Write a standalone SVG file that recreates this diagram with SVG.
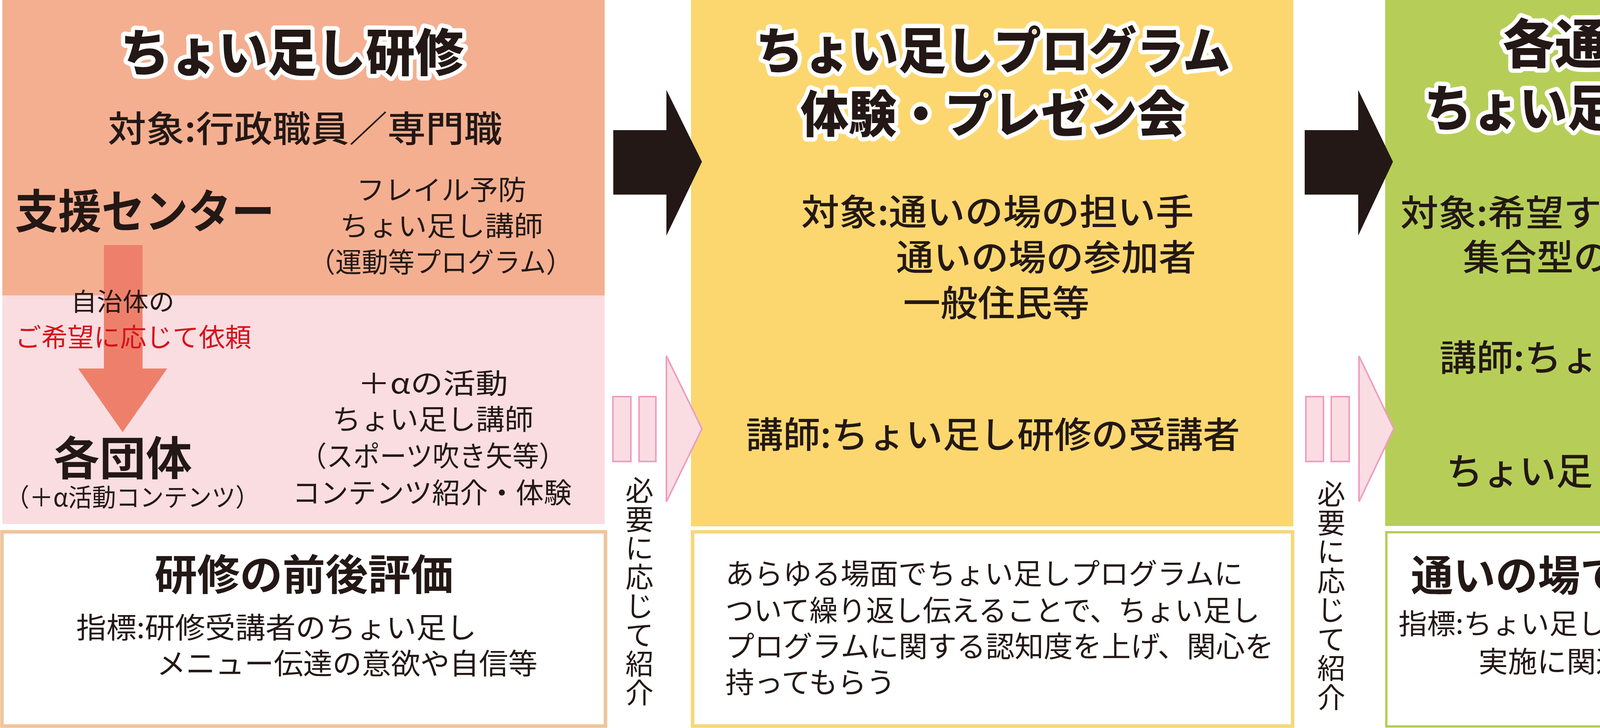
<svg xmlns="http://www.w3.org/2000/svg" width="5089" height="1863" viewBox="0 0 5089 1863">
<style>
text{font-family:"Noto Sans CJK JP","Noto Sans",sans-serif;fill:#231815;dominant-baseline:central}
.ttl{font-weight:900;stroke:#fff;stroke-width:22;stroke-linejoin:round;paint-order:stroke fill}
.b{font-weight:700}
.m{font-weight:500}
.r{font-weight:400}
.c{text-anchor:middle}
.vt{font-weight:400;font-size:72px;text-anchor:middle}
.bar{fill:#FADDE3;stroke:#EE9DC0;stroke-width:4}
</style>
<rect width="5089" height="1863" fill="#fff"/>

<g id="node-kenshu">
<rect x="6" y="0" width="1542" height="756" fill="#F4AF90"/>
<rect x="6" y="756" width="1542" height="585" fill="#F9DDE1"/>
<text class="ttl c" x="748" y="125" font-size="130" textLength="880" lengthAdjust="spacingAndGlyphs">ちょい足し研修</text>
<text class="m" x="276" y="322" font-size="92" textLength="1010" lengthAdjust="spacingAndGlyphs">対象:行政職員／専門職</text>
<text class="b" x="38" y="532" font-size="118" textLength="665" lengthAdjust="spacingAndGlyphs">支援センター</text>
<text class="r c" x="1130" y="481" font-size="70" textLength="435" lengthAdjust="spacingAndGlyphs">フレイル予防</text>
<text class="r c" x="1130" y="573" font-size="70" textLength="520" lengthAdjust="spacingAndGlyphs">ちょい足し講師</text>
<text class="r c" x="1128" y="666" font-size="70" textLength="675" lengthAdjust="spacingAndGlyphs">（運動等プログラム）</text>
</g>

<g id="connector-request">
<polygon points="266,627 365,627 365,943 428,943 314,1106 200,943 266,943" fill="#EE806B"/>
</g>

<g id="node-dantai">
<text class="r c" x="314" y="767" font-size="64" textLength="265" lengthAdjust="spacingAndGlyphs">自治体の</text>
<text class="r c" x="341" y="858" font-size="66" textLength="605" lengthAdjust="spacingAndGlyphs" style="fill:#D5121B">ご希望に応じて依頼</text>
<text class="b c" x="314" y="1164" font-size="118" textLength="355" lengthAdjust="spacingAndGlyphs">各団体</text>
<text class="r c" x="339" y="1268" font-size="64" textLength="650" lengthAdjust="spacingAndGlyphs">（＋α活動コンテンツ）</text>
<text class="r c" x="1108" y="975" font-size="72" textLength="385" lengthAdjust="spacingAndGlyphs">＋αの活動</text>
<text class="r c" x="1108" y="1067" font-size="72" textLength="515" lengthAdjust="spacingAndGlyphs">ちょい足し講師</text>
<text class="r c" x="1108" y="1161" font-size="72" textLength="680" lengthAdjust="spacingAndGlyphs">（スポーツ吹き矢等）</text>
<text class="r c" x="1106" y="1255" font-size="72" textLength="715" lengthAdjust="spacingAndGlyphs">コンテンツ紹介・体験</text>
</g>

<g id="node-eval1">
<rect x="5" y="1361" width="1545" height="497" fill="#fff" stroke="#EFC59B" stroke-width="9"/>
<text class="b c" x="778" y="1463" font-size="108" textLength="765" lengthAdjust="spacingAndGlyphs">研修の前後評価</text>
<text class="r" x="195" y="1600" font-size="74" textLength="1025" lengthAdjust="spacingAndGlyphs">指標:研修受講者のちょい足し</text>
<text class="r" x="401" y="1692" font-size="74" textLength="975" lengthAdjust="spacingAndGlyphs">メニュー伝達の意欲や自信等</text>
</g>

<g id="node-program">
<rect x="1769" y="0" width="1542" height="1347" fill="#FCD770"/>
<text class="ttl c" x="2542" y="121" font-size="128" textLength="1215" lengthAdjust="spacingAndGlyphs">ちょい足しプログラム</text>
<text class="ttl c" x="2542" y="283" font-size="128" textLength="985" lengthAdjust="spacingAndGlyphs">体験・プレゼン会</text>
<text class="m" x="2051" y="535" font-size="92" textLength="1005" lengthAdjust="spacingAndGlyphs">対象:通いの場の担い手</text>
<text class="m" x="2294" y="651" font-size="92" textLength="768" lengthAdjust="spacingAndGlyphs">通いの場の参加者</text>
<text class="m" x="2312" y="768" font-size="92" textLength="477" lengthAdjust="spacingAndGlyphs">一般住民等</text>
<text class="m c" x="2542" y="1105" font-size="92" textLength="1265" lengthAdjust="spacingAndGlyphs">講師:ちょい足し研修の受講者</text>
</g>

<g id="node-desc2">
<rect x="1773" y="1361" width="1536" height="497" fill="#fff" stroke="#F6D77B" stroke-width="9"/>
<text class="r" x="1857" y="1462" font-size="74" textLength="1325" lengthAdjust="spacingAndGlyphs">あらゆる場面でちょい足しプログラムに</text>
<text class="r" x="1857" y="1556" font-size="74" textLength="1368" lengthAdjust="spacingAndGlyphs">ついて繰り返し伝えることで、ちょい足し</text>
<text class="r" x="1857" y="1648" font-size="74" textLength="1404" lengthAdjust="spacingAndGlyphs">プログラムに関する認知度を上げ、関心を</text>
<text class="r" x="1857" y="1740" font-size="74" textLength="435" lengthAdjust="spacingAndGlyphs">持ってもらう</text>
</g>

<g id="node-practice">
<rect x="3546" y="0" width="1543" height="1346" fill="#B6CE58"/>
<text class="ttl c" x="4316" y="103" font-size="135" textLength="940" lengthAdjust="spacingAndGlyphs">各通いの場での</text>
<text class="ttl c" x="4318" y="268" font-size="128" textLength="1345" lengthAdjust="spacingAndGlyphs">ちょい足しの伝達・実践</text>
<text class="m" x="3585" y="537" font-size="92" textLength="1390" lengthAdjust="spacingAndGlyphs">対象:希望する通いの場への伝達</text>
<text class="m" x="3745" y="651" font-size="92" textLength="1322" lengthAdjust="spacingAndGlyphs">集合型のちょい足し研修で伝達</text>
<text class="m c" x="4315" y="908" font-size="92" textLength="1260" lengthAdjust="spacingAndGlyphs">講師:ちょい足し研修の受講者</text>
<text class="m c" x="4312" y="1199" font-size="95" textLength="1220" lengthAdjust="spacingAndGlyphs">ちょい足しを住民同士で実践</text>
</g>

<g id="node-eval3">
<rect x="3549" y="1362" width="1535" height="497" fill="#fff" stroke="#B6CE58" stroke-width="6"/>
<text class="b c" x="4316" y="1465" font-size="108" textLength="1408" lengthAdjust="spacingAndGlyphs">通いの場での継続状況の評価</text>
<text class="r" x="3580" y="1590" font-size="72" textLength="1335" lengthAdjust="spacingAndGlyphs">指標:ちょい足しプログラムの実施状況、</text>
<text class="r" x="3785" y="1687" font-size="74" textLength="1203" lengthAdjust="spacingAndGlyphs">実施に関連する促進要因、阻害要因</text>
</g>

<g id="connectors">
<polygon points="1570,333 1706,333 1706,230 1797,414 1706,603 1706,498 1570,498" fill="#231815"/>
<polygon points="3340,333 3477,333 3477,230 3566,414 3477,603 3477,498 3340,498" fill="#231815"/>
<rect class="bar" x="1569" y="1015" width="46" height="166"/>
<rect class="bar" x="1636" y="1015" width="43" height="166"/>
<polygon class="bar" points="1706,911 1797,1097 1706,1284"/>
<rect class="bar" x="3343" y="1015" width="45" height="166"/>
<rect class="bar" x="3408" y="1015" width="46" height="166"/>
<polygon class="bar" points="3479,911 3568,1097 3479,1284"/>
<polygon points="4196,989 4367,989 4281,1099" fill="#000"/>
<text class="vt"><tspan x="1637" y="1249">必</tspan><tspan x="1637" y="1323">要</tspan><tspan x="1637" y="1397">に</tspan><tspan x="1637" y="1471">応</tspan><tspan x="1637" y="1545">じ</tspan><tspan x="1637" y="1619">て</tspan><tspan x="1637" y="1693">紹</tspan><tspan x="1637" y="1767">介</tspan></text>
<text class="vt"><tspan x="3408" y="1258">必</tspan><tspan x="3408" y="1332">要</tspan><tspan x="3408" y="1406">に</tspan><tspan x="3408" y="1481">応</tspan><tspan x="3408" y="1555">じ</tspan><tspan x="3408" y="1630">て</tspan><tspan x="3408" y="1704">紹</tspan><tspan x="3408" y="1779">介</tspan></text>
</g>
</svg>
